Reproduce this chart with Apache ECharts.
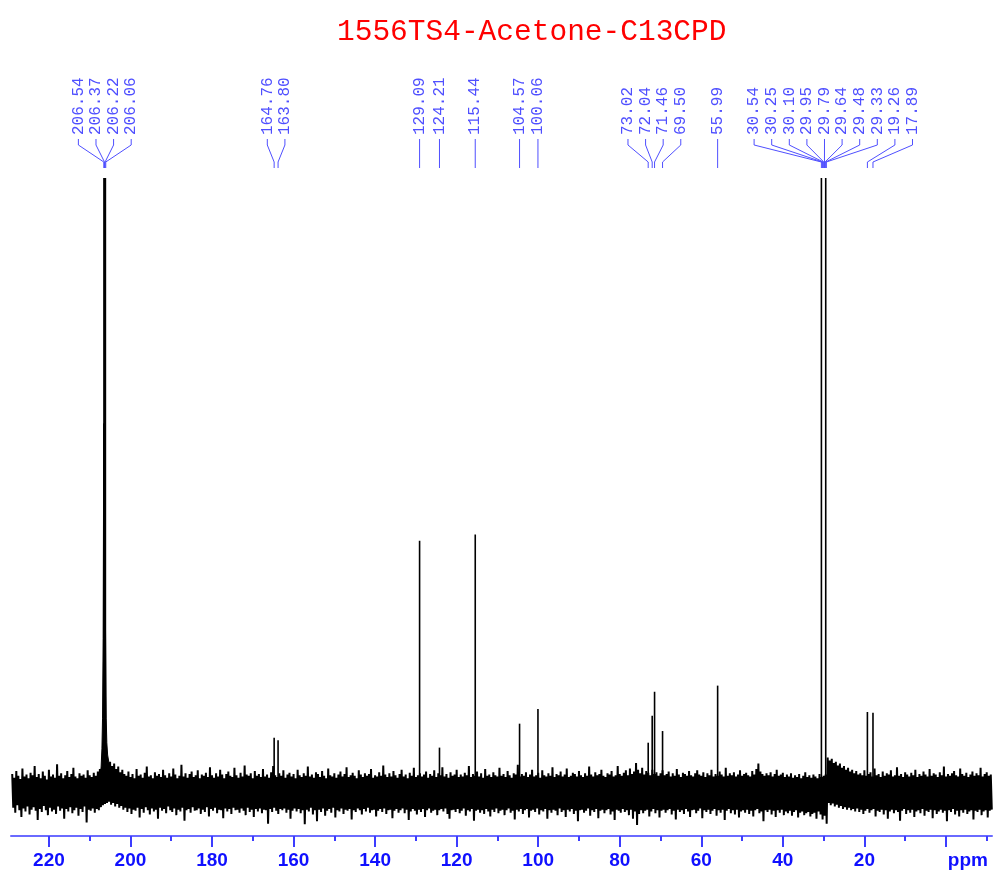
<!DOCTYPE html>
<html><head><meta charset="utf-8">
<script src="https://cdn.jsdelivr.net/npm/echarts@6/dist/echarts.min.js"></script>
<style>html,body{margin:0;padding:0;background:#fff}#c{width:993px;height:877px}</style>
</head><body><div id="c"></div>
<script>
const chartTitle = '1556TS4-Acetone-C13CPD';
const majorTicks = [0, 20, 40, 60, 80, 100, 120, 140, 160, 180, 200, 220];
const minorTicks = [-10, 10, 30, 50, 70, 90, 110, 130, 150, 170, 190, 210];
const labelPpm = [206.54, 206.37, 206.22, 206.06, 164.76, 163.80, 129.09, 124.21, 115.44, 104.57, 100.06,
  73.02, 72.04, 71.46, 69.50, 55.99, 30.54, 30.25, 30.10, 29.95, 29.79, 29.64, 29.48, 29.33, 19.26, 17.89];
const peakPpm = [206.50, 206.32, 206.15, 164.76, 163.80, 129.09, 124.21, 115.44, 104.57, 100.06,
  73.02, 72.04, 71.46, 69.50, 55.99, 30.54, 29.48, 19.26, 17.89];
const peakHeight = [150, 150, 150, 8.8, 8.4, 40.9, 7.2, 41.9, 11.1, 13.5,
  8.0, 12.4, 16.3, 9.9, 17.3, 150, 150, 13.0, 12.9];
const basePpm = [207.8, 207.5, 207.2, 207.0, 206.85, 206.7, 206.55, 206.4, 206.25, 206.1, 205.95, 205.8, 205.6, 205.3, 205.0];
const baseVal = [0, 2, 4, 7, 12, 25, 60, 60, 60, 25, 12, 8, 6, 4.8, 4];
const noiseStart = 229;   // ppm of first noise column
const noiseStep = 0.5;    // ppm between noise columns
const noiseHi = [
  2.9, 2.3, 3.4, 2.6, 2.1, 3.8, 2.5, 2.8, 2.2, 3.1,
  2.7, 4.2, 2.4, 2.9, 2.2, 3.3, 2.6, 2.0, 3.6, 2.5,
  2.8, 2.3, 4.5, 2.6, 3.0, 2.2, 2.7, 3.4, 2.4, 2.9,
  3.9, 2.5, 2.2, 3.0, 2.6, 2.8, 2.3, 3.5, 2.7, 2.4,
  3.1, 2.6, 3.3, 3.7, 4.0, 4.2, 4.5, 4.7, 4.9, 4.2,
  4.6, 3.7, 4.1, 3.2, 3.6, 2.9, 2.6, 3.3, 2.4, 2.9,
  2.2, 3.7, 2.6, 2.8, 2.3, 3.1, 4.1, 2.5, 2.7, 2.2,
  3.2, 2.6, 2.9, 2.4, 3.6, 2.7, 2.3, 3.0, 2.5, 3.8,
  2.8, 2.2, 2.6, 4.4, 2.5, 3.0, 2.3, 2.9, 3.3, 2.4,
  2.7, 3.5, 2.2, 2.8, 2.6, 3.1, 2.4, 4.0, 2.7, 2.3,
  3.0, 2.5, 3.6, 2.8, 2.2, 2.9, 3.3, 2.6, 2.4, 3.9,
  2.7, 2.3, 3.1, 2.5, 4.3, 2.8, 2.6, 3.0, 2.2, 3.4,
  2.6, 2.9, 2.4, 3.7, 2.5, 2.8, 2.3, 3.2, 4.2, 2.7,
  2.4, 3.0, 2.6, 3.5, 2.3, 2.8, 3.1, 2.5, 2.9, 2.2,
  3.6, 2.7, 2.4, 3.0, 2.6, 4.1, 2.5, 2.8, 2.3, 3.2,
  2.9, 2.4, 3.4, 2.6, 2.2, 3.8, 2.7, 2.5, 3.0, 2.3,
  2.8, 3.3, 2.5, 2.9, 4.0, 2.4, 2.7, 3.1, 2.6, 2.2,
  3.5, 2.8, 2.4, 3.0, 2.6, 2.9, 3.7, 2.3, 2.7, 2.5,
  3.2, 2.6, 4.3, 2.8, 2.4, 3.0, 2.5, 3.4, 2.7, 2.3,
  2.9, 3.6, 2.5, 2.8, 2.2, 3.1, 2.6, 3.9, 2.4, 2.7,
  3.0, 2.5, 2.8, 3.3, 2.3, 2.9, 2.6, 3.5, 2.4, 3.0,
  2.7, 4.0, 2.5, 2.9, 2.3, 3.2, 2.6, 2.8, 3.6, 2.4,
  2.8, 2.5, 3.1, 2.7, 4.2, 2.4, 2.9, 2.6, 3.3, 2.5,
  3.0, 2.3, 3.7, 2.6, 2.8, 2.4, 3.2, 2.7, 2.5, 3.9,
  2.6, 2.9, 2.4, 3.4, 2.7, 2.3, 3.0, 2.8, 4.4, 2.5,
  2.9, 2.6, 3.2, 2.4, 2.8, 3.6, 2.5, 2.7, 3.1, 2.3,
  3.5, 2.7, 2.5, 3.0, 2.6, 4.0, 2.4, 2.9, 2.7, 3.3,
  2.5, 2.8, 3.8, 2.4, 2.6, 3.1, 2.9, 2.5, 3.4, 2.7,
  2.4, 3.0, 2.6, 4.1, 2.8, 2.5, 3.2, 2.7, 2.9, 3.6,
  2.6, 2.4, 3.0, 2.8, 3.4, 2.5, 2.7, 4.2, 2.9, 2.6,
  3.1, 3.5, 2.7, 3.8, 2.9, 3.3, 4.7, 3.6, 3.0, 3.9,
  2.8, 3.4, 3.1, 2.7, 3.6, 2.9, 3.2, 2.6, 3.0, 3.5,
  2.7, 2.9, 3.3, 2.5, 3.0, 2.6, 3.7, 2.8, 2.4, 3.1,
  2.9, 2.6, 3.4, 2.7, 2.5, 3.0, 3.5, 2.8, 2.6, 3.2,
  2.4, 3.0, 2.7, 3.6, 2.5, 2.9, 2.6, 3.3, 2.8, 2.5,
  3.9, 2.6, 3.0, 2.7, 3.2, 2.5, 2.8, 3.5, 2.6, 2.9,
  3.1, 2.7, 2.5, 3.4, 2.8, 3.7, 4.6, 3.3, 2.9, 2.6,
  3.0, 2.7, 3.2, 2.5, 2.9, 3.6, 2.6, 2.8, 3.1, 2.4,
  2.8, 2.5, 3.0, 2.3, 2.7, 2.4, 2.9, 2.2, 2.6, 3.2,
  2.4, 2.7, 2.3, 2.8, 2.5, 2.2, 2.9, 2.4, 2.6, 2.8,
  5.6, 5.1, 5.4, 4.7, 4.9, 4.3, 4.6, 3.9, 4.2, 3.6,
  3.9, 3.3, 3.6, 3.0, 3.4, 2.8, 3.0, 2.7, 3.5, 2.6,
  2.9, 3.2, 2.5, 3.8, 2.7, 2.9, 2.4, 3.3, 2.6, 3.0,
  2.8, 3.5, 2.5, 2.7, 4.0, 2.6, 2.9, 2.4, 3.2, 2.8,
  2.5, 3.1, 2.7, 3.6, 2.4, 2.9, 2.6, 3.3, 2.8, 2.5,
  3.7, 2.6, 3.0, 2.8, 2.4, 3.2, 2.7, 4.1, 2.5, 2.9,
  2.6, 3.0, 3.4, 2.7, 2.5, 3.8, 2.9, 2.6, 3.1, 2.4,
  2.8, 3.3, 2.6, 3.0, 2.7, 3.9, 2.5, 2.9, 3.2, 2.6,
  2.8
];
const noiseLo = [
  -2.6, -3.4, -2.2, -3.0, -4.1, -2.7, -3.2, -2.4, -3.7, -2.9,
  -2.5, -3.1, -4.6, -2.8, -3.3, -2.3, -3.0, -3.8, -2.6, -3.2,
  -2.9, -3.6, -2.4, -3.1, -2.7, -4.4, -2.8, -3.2, -2.5, -3.5,
  -3.0, -2.6, -3.9, -2.8, -3.3, -2.4, -5.0, -2.9, -3.1, -2.7,
  -3.4, -2.8, -3.0, -2.5, -2.2, -2.0, -1.8, -1.6, -2.1, -1.8,
  -2.4, -2.0, -2.6, -2.3, -2.9, -2.6, -3.3, -2.7, -3.6, -2.9,
  -3.1, -2.6, -4.2, -2.8, -3.4, -2.5, -3.0, -3.7, -2.7, -3.2,
  -2.9, -4.4, -2.6, -3.1, -2.8, -3.5, -2.4, -3.0, -3.3, -2.7,
  -3.8, -2.9, -3.2, -2.6, -4.7, -3.0, -2.8, -3.4, -2.5, -3.1,
  -3.0, -2.7, -3.6, -2.9, -3.3, -2.5, -4.0, -2.8, -3.1, -2.6,
  -3.5, -2.9, -3.0, -4.3, -2.7, -3.2, -2.8, -3.6, -2.6, -3.0,
  -2.9, -3.4, -2.7, -3.1, -3.8, -2.6, -3.3, -2.9, -4.1, -2.8,
  -3.2, -2.7, -3.5, -2.9, -3.0, -5.2, -2.8, -3.3, -2.6, -3.1,
  -3.6, -2.8, -3.0, -2.7, -3.4, -2.9, -4.4, -3.1, -2.7, -3.2,
  -2.8, -3.5, -3.0, -5.3, -2.9, -3.2, -2.6, -3.7, -3.0, -4.8,
  -2.9, -3.3, -2.7, -3.9, -3.1, -2.8, -3.4, -2.6, -4.2, -3.0,
  -3.2, -2.7, -3.6, -2.9, -3.1, -2.8, -4.5, -3.0, -3.3, -2.7,
  -3.0, -3.7, -2.8, -3.2, -2.6, -3.4, -3.0, -2.9, -4.0, -3.1,
  -2.8, -3.3, -2.7, -3.6, -3.0, -2.9, -4.3, -3.1, -2.8, -3.4,
  -3.0, -2.7, -3.5, -2.9, -4.6, -3.2, -2.8, -3.1, -3.7, -2.9,
  -3.3, -2.8, -4.1, -3.0, -2.7, -3.4, -3.1, -2.9, -3.8, -3.0,
  -2.8, -3.2, -2.7, -3.6, -4.4, -3.0, -2.9, -3.3, -2.8, -3.5,
  -3.1, -2.7, -3.9, -3.0, -3.2, -2.8, -4.7, -3.1, -2.9, -3.4,
  -3.0, -3.6, -2.8, -3.2, -4.0, -2.9, -3.3, -2.7, -3.5, -3.1,
  -2.9, -3.8, -3.0, -2.7, -3.4, -3.1, -4.5, -2.9, -3.2, -2.8,
  -3.6, -3.0, -2.8, -4.2, -3.1, -2.9, -3.3, -2.7, -3.7, -3.0,
  -3.2, -2.8, -4.4, -3.0, -3.4, -2.9, -3.1, -3.8, -2.7, -3.3,
  -3.0, -4.1, -2.9, -3.2, -2.8, -3.6, -3.1, -4.8, -3.0, -2.9,
  -3.4, -3.1, -2.7, -3.9, -3.0, -3.3, -2.8, -4.3, -3.1, -2.9,
  -3.5, -3.0, -2.8, -3.7, -3.2, -4.6, -2.9, -3.1, -3.4, -2.8,
  -3.3, -3.0, -3.8, -2.9, -4.4, -3.2, -5.4, -3.6, -3.0, -3.5,
  -3.1, -2.9, -4.0, -3.2, -2.8, -3.5, -3.0, -4.2, -3.1, -2.9,
  -3.4, -3.0, -2.8, -3.7, -3.1, -4.5, -2.9, -3.3, -3.0, -3.6,
  -2.8, -3.2, -4.1, -3.0, -2.9, -3.5, -3.1, -2.7, -4.3, -3.0,
  -3.3, -2.9, -3.6, -3.1, -2.8, -3.9, -3.0, -3.4, -2.9, -4.6,
  -3.1, -2.8, -3.5, -3.0, -3.7, -2.9, -4.2, -3.2, -3.0, -3.4,
  -2.9, -3.6, -3.1, -4.0, -3.0, -2.8, -3.5, -3.2, -4.8, -3.0,
  -3.3, -2.9, -3.7, -3.1, -4.1, -3.0, -3.4, -2.9, -3.8, -3.2,
  -3.5, -3.1, -3.9, -3.3, -3.0, -4.2, -3.4, -3.2, -3.8, -3.5,
  -3.3, -4.0, -3.6, -3.4, -4.4, -3.2, -3.7, -4.5, -3.9, -5.2,
  -1.8, -2.2, -1.9, -2.4, -2.1, -2.6, -2.3, -2.8, -2.5, -2.9,
  -2.6, -3.0, -2.8, -3.2, -2.7, -3.3, -2.9, -3.6, -3.1, -2.8,
  -3.4, -3.0, -2.8, -4.0, -3.1, -3.3, -2.9, -3.7, -3.0, -4.4,
  -3.2, -2.9, -3.5, -3.0, -3.3, -4.7, -3.1, -2.8, -3.6, -3.0,
  -3.4, -2.9, -4.1, -3.2, -3.0, -3.5, -2.8, -3.9, -3.1, -3.3,
  -2.9, -4.3, -3.0, -3.6, -3.2, -2.9, -3.4, -3.1, -4.8, -3.0,
  -3.3, -2.8, -3.7, -3.1, -4.0, -3.0, -3.4, -2.9, -3.6, -3.2,
  -3.0, -4.5, -3.1, -3.3, -2.9, -3.8, -3.2, -3.0, -4.2, -3.1,
  -2.9
];

// trace: each noise column drawn as its top then its bottom value
const noiseData = [];
noiseHi.forEach((h, i) => {
  const p = noiseStart - i * noiseStep;
  noiseData.push([p, h]);
  noiseData.push([p - noiseStep / 2, noiseLo[i]]);
});
const baseData = basePpm.map((p, i) => [p, baseVal[i]]);
const peakData = peakPpm.map((p, i) => [p, peakHeight[i]]);
const labelData = labelPpm.map((p, i) => [p, i]);

function layoutLabels(xs, gap) {
  let clusters = xs.map((x, i) => ({ a: i, b: i, sum: x }));
  let changed = true;
  while (changed) {
    changed = false;
    for (let k = 0; k < clusters.length - 1; k++) {
      const c = clusters[k], d = clusters[k + 1];
      const cn = c.b - c.a + 1, dn = d.b - d.a + 1;
      const cRight = c.sum / cn + (cn - 1) / 2 * gap;
      const dLeft = d.sum / dn - (dn - 1) / 2 * gap;
      if (dLeft - cRight < gap - 0.01) {
        clusters.splice(k, 2, { a: c.a, b: d.b, sum: c.sum + d.sum });
        changed = true;
        break;
      }
    }
  }
  const out = [];
  clusters.forEach(c => {
    const n = c.b - c.a + 1, m = c.sum / n;
    for (let j = 0; j < n; j++) out[c.a + j] = m + (j - (n - 1) / 2) * gap;
  });
  return out;
}

const labelBlue = '#4f4fff';
const axisBlue = '#1010ff';
const chart = echarts.init(document.getElementById('c'), null, { renderer: 'canvas' });
chart.setOption({
  animation: false,
  backgroundColor: '#ffffff',
  title: {
    text: chartTitle, left: 332, top: 12,
    textStyle: { fontFamily: 'Liberation Mono', fontSize: 29.5, fontWeight: 'normal', color: '#ff0000' }
  },
  grid: { left: 11, right: 1, top: 178, bottom: 41, containLabel: false, outerBoundsMode: 'none' },
  xAxis: [{
    type: 'value', min: -11.3, max: 229.3, inverse: true, position: 'bottom',
    axisLine: { show: true, onZero: false, lineStyle: { color: '#6a6aff', width: 2 } },
    axisTick: { show: true, customValues: majorTicks, length: 11, lineStyle: { color: '#3c3cff', width: 2 } },
    axisLabel: {
      customValues: majorTicks, margin: 15, color: axisBlue,
      fontFamily: 'Liberation Sans', fontWeight: 'bold', fontSize: 19,
      formatter: v => (v === 0 ? '{p|ppm}' : String(v)),
      rich: { p: { padding: [0, 0, 0, 44], fontFamily: 'Liberation Sans', fontWeight: 'bold', fontSize: 19, color: axisBlue } }
    },
    splitLine: { show: false }
  }, {
    type: 'value', min: -11.3, max: 229.3, inverse: true, position: 'bottom',
    axisLine: { show: false, onZero: false },
    axisTick: { show: true, customValues: minorTicks, length: 5, lineStyle: { color: '#3c3cff', width: 2 } },
    axisLabel: { show: false },
    splitLine: { show: false }
  }],
  yAxis: { type: 'value', min: -7.2, max: 100, show: false },
  series: [{
    type: 'line', name: 'noise', data: noiseData, symbol: 'none', showSymbol: false,
    sampling: false, progressive: 0,
    lineStyle: { color: '#000', width: 2 }, silent: true, clip: true, z: 2
  }, {
    type: 'line', name: 'base', data: baseData, symbol: 'none', showSymbol: false,
    lineStyle: { color: '#000', width: 1 }, areaStyle: { color: '#000', opacity: 1 }, silent: true, clip: true, z: 3
  }, {
    type: 'custom', name: 'peaks', data: peakData, clip: true, silent: true, z: 4,
    encode: { x: 0, y: 1 },
    renderItem: function (params, api) {
      const p = api.value(0), h = api.value(1);
      const a = api.coord([p, 0]), b = api.coord([p, h]);
      return { type: 'line', shape: { x1: a[0], y1: a[1], x2: b[0], y2: b[1] }, style: { stroke: '#000', lineWidth: 1.6 } };
    }
  }, {
    type: 'custom', name: 'labels', data: labelData, clip: false, silent: true, z: 5,
    encode: { x: 0, y: 1 },
    renderItem: function (params, api) {
      const xs = labelPpm.map(p => api.coord([p, 0])[0]);
      const lx = layoutLabels(xs, 17.6);
      const i = params.dataIndex;
      const top = params.coordSys.y;
      const px = xs[i], qx = lx[i];
      return {
        type: 'group',
        children: [{
          type: 'text', x: qx, y: top - 43, rotation: Math.PI / 2,
          style: { text: labelPpm[i].toFixed(2), fill: labelBlue, font: '16px "Liberation Mono"', align: 'left', verticalAlign: 'middle' }
        }, {
          type: 'polyline',
          shape: { points: [[qx, top - 39], [qx, top - 33], [px, top - 16], [px, top - 10]] },
          style: { stroke: labelBlue, lineWidth: 1, fill: null }
        }]
      };
    }
  }]
});
</script></body></html>
